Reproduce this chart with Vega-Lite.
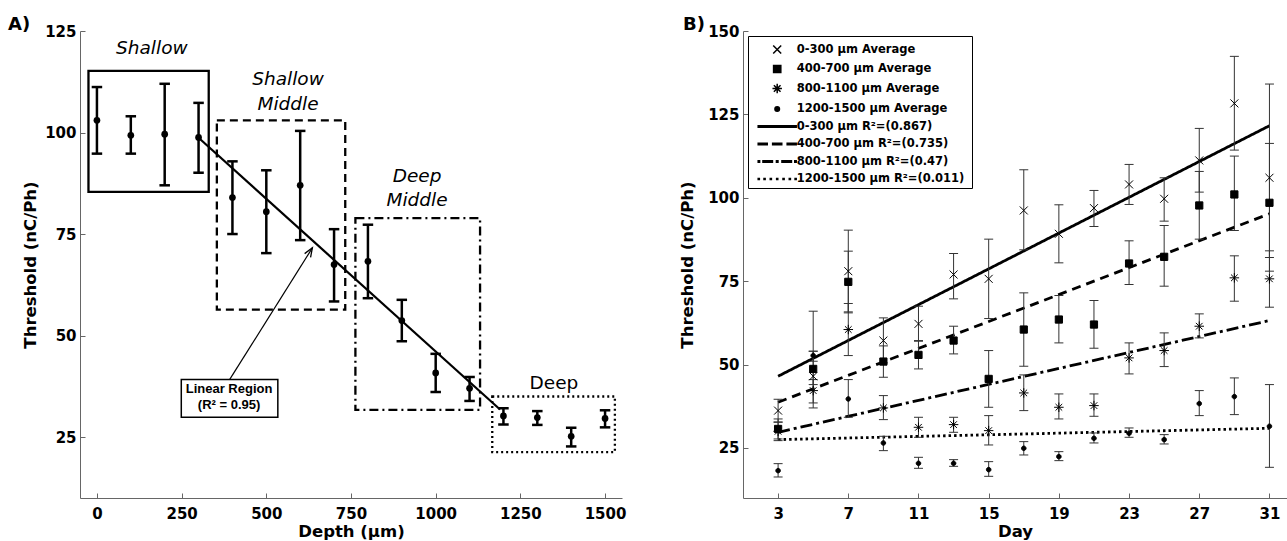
{
  "$schema": "https://vega.github.io/schema/vega-lite/v6.json",
  "padding": {"left": 8, "top": 16, "right": 0, "bottom": 0},
  "spacing": 53,
  "resolve": {"scale": {"shape": "independent", "fill": "independent", "strokeDash": "independent", "x": "independent", "y": "independent"}, "legend": {"shape": "independent", "fill": "independent", "strokeDash": "independent"}},
  "config": {
    "view": {"stroke": null},
    "axis": {"domainColor": "#666", "tickColor": "#666", "tickSize": -5, "labelFont": "DejaVu Sans", "labelFontWeight": "bold", "labelFontSize": 15, "labelColor": "black", "titleFont": "DejaVu Sans", "titleFontWeight": "bold", "titleFontSize": 16.5, "titleColor": "black", "grid": false, "labelFlush": false, "labelOverlap": false, "format": "d"},
    "axisX": {"labelPadding": 13, "titlePadding": 2},
    "axisY": {"labelPadding": 9},
    "title": {"font": "DejaVu Sans", "fontWeight": "bold", "fontSize": 18, "color": "black", "anchor": "start", "frame": "group", "baseline": "alphabetic", "offset": -10}
  },
  "datasets": {
    "depth": [
      {"d": 0, "m": 103.0, "lo": 94.8, "hi": 111.2},
      {"d": 100, "m": 99.3, "lo": 94.8, "hi": 104.0},
      {"d": 200, "m": 99.6, "lo": 87.0, "hi": 112.0},
      {"d": 300, "m": 98.8, "lo": 90.1, "hi": 107.3},
      {"d": 400, "m": 84.0, "lo": 75.0, "hi": 92.9},
      {"d": 500, "m": 80.5, "lo": 70.3, "hi": 90.7},
      {"d": 600, "m": 87.0, "lo": 73.5, "hi": 100.4},
      {"d": 700, "m": 67.5, "lo": 58.4, "hi": 76.2},
      {"d": 800, "m": 68.3, "lo": 59.2, "hi": 77.3},
      {"d": 900, "m": 53.7, "lo": 48.6, "hi": 58.8},
      {"d": 1000, "m": 40.8, "lo": 36.1, "hi": 45.5},
      {"d": 1100, "m": 37.0, "lo": 33.9, "hi": 39.8},
      {"d": 1200, "m": 30.2, "lo": 28.1, "hi": 32.1},
      {"d": 1300, "m": 29.8, "lo": 28.0, "hi": 31.4},
      {"d": 1400, "m": 25.2, "lo": 22.7, "hi": 27.3},
      {"d": 1500, "m": 29.6, "lo": 27.4, "hi": 31.6}
    ],
    "linfit": [{"d": 300, "v": 98.7}, {"d": 1190, "v": 31.8}],
    "boxes": [
      {"region": "Shallow", "x1": -25, "x2": 330, "y1": 85.4, "y2": 115.2},
      {"region": "Shallow Middle", "x1": 354, "x2": 733, "y1": 56.4, "y2": 103.0},
      {"region": "Deep Middle", "x1": 763, "x2": 1131, "y1": 31.7, "y2": 78.9},
      {"region": "Deep", "x1": 1167, "x2": 1529, "y1": 21.3, "y2": 35.0}
    ],
    "italicLabels": [
      {"t": "Shallow", "d": 162, "v": 120.7},
      {"t": "Shallow", "d": 564, "v": 113.1},
      {"t": "Middle", "d": 564, "v": 107.1},
      {"t": "Deep", "d": 945, "v": 89.3},
      {"t": "Middle", "d": 945, "v": 83.5}
    ],
    "deepLabel": [{"t": "Deep", "d": 1349, "v": 38.3}],
    "arrow": [{"d1": 392, "v1": 39.2, "d2": 636, "v2": 71.6}],
    "annotBox": [{"x1": 249, "x2": 534, "y1": 29.9, "y2": 39.2}],
    "annotText": [
      {"t": "Linear Region", "d": 390, "v": 36.9},
      {"t": "(R² = 0.95)", "d": 390, "v": 32.8}
    ],
    "pts": [
      {"day": 3, "series": "0-300  µm Average", "m": 36.2, "lo": 32.8, "hi": 39.6},
      {"day": 5, "series": "0-300  µm Average", "m": 46.5, "lo": 37, "hi": 66},
      {"day": 7, "series": "0-300  µm Average", "m": 78, "lo": 65.8, "hi": 90.3},
      {"day": 9, "series": "0-300  µm Average", "m": 57.2, "lo": 50.5, "hi": 64},
      {"day": 11, "series": "0-300  µm Average", "m": 62.2, "lo": 57, "hi": 67.5},
      {"day": 13, "series": "0-300  µm Average", "m": 77, "lo": 69.7, "hi": 83.3},
      {"day": 15, "series": "0-300  µm Average", "m": 75.7, "lo": 63.8, "hi": 87.6},
      {"day": 17, "series": "0-300  µm Average", "m": 96.2, "lo": 84.4, "hi": 108.4},
      {"day": 19, "series": "0-300  µm Average", "m": 89.2, "lo": 80.5, "hi": 97.9},
      {"day": 21, "series": "0-300  µm Average", "m": 96.9, "lo": 91.4, "hi": 102.2},
      {"day": 23, "series": "0-300  µm Average", "m": 104, "lo": 98, "hi": 110},
      {"day": 25, "series": "0-300  µm Average", "m": 99.7, "lo": 93, "hi": 106},
      {"day": 27, "series": "0-300  µm Average", "m": 111.2, "lo": 101.7, "hi": 120.8},
      {"day": 29, "series": "0-300  µm Average", "m": 128.3, "lo": 114.3, "hi": 142.4},
      {"day": 31, "series": "0-300  µm Average", "m": 106, "lo": 78, "hi": 134.1},
      {"day": 3, "series": "400-700  µm Average", "m": 30.7, "lo": 27.7, "hi": 33.7},
      {"day": 5, "series": "400-700  µm Average", "m": 48.7, "lo": 44, "hi": 54},
      {"day": 7, "series": "400-700  µm Average", "m": 74.8, "lo": 65.5, "hi": 84},
      {"day": 9, "series": "400-700  µm Average", "m": 50.9, "lo": 46.2, "hi": 55.6},
      {"day": 11, "series": "400-700  µm Average", "m": 52.9, "lo": 48.7, "hi": 57.2},
      {"day": 13, "series": "400-700  µm Average", "m": 57.2, "lo": 53.2, "hi": 61.5},
      {"day": 15, "series": "400-700  µm Average", "m": 45.7, "lo": 37.2, "hi": 54.2},
      {"day": 17, "series": "400-700  µm Average", "m": 60.5, "lo": 49.5, "hi": 71.5},
      {"day": 19, "series": "400-700  µm Average", "m": 63.5, "lo": 56.5, "hi": 70.7},
      {"day": 21, "series": "400-700  µm Average", "m": 62, "lo": 54.9, "hi": 69.2},
      {"day": 23, "series": "400-700  µm Average", "m": 80.3, "lo": 74, "hi": 87.1},
      {"day": 25, "series": "400-700  µm Average", "m": 82.3, "lo": 73.5, "hi": 91.7},
      {"day": 27, "series": "400-700  µm Average", "m": 97.7, "lo": 87.6, "hi": 107.9},
      {"day": 29, "series": "400-700  µm Average", "m": 101, "lo": 90.2, "hi": 112.5},
      {"day": 31, "series": "400-700  µm Average", "m": 98.5, "lo": 82.1, "hi": 116.3},
      {"day": 3, "series": "800-1100  µm Average", "m": 30.0, "lo": 27.2, "hi": 32.7},
      {"day": 5, "series": "800-1100  µm Average", "m": 42.2, "lo": 38.5, "hi": 45.5},
      {"day": 7, "series": "800-1100  µm Average", "m": 60.5, "lo": 52.7, "hi": 68.3},
      {"day": 9, "series": "800-1100  µm Average", "m": 37, "lo": 33.5, "hi": 40.7},
      {"day": 11, "series": "800-1100  µm Average", "m": 31.2, "lo": 28.2, "hi": 34.2},
      {"day": 13, "series": "800-1100  µm Average", "m": 32, "lo": 29.7, "hi": 34.2},
      {"day": 15, "series": "800-1100  µm Average", "m": 30.2, "lo": 25.9, "hi": 34.7},
      {"day": 17, "series": "800-1100  µm Average", "m": 41.5, "lo": 36.2, "hi": 46.9},
      {"day": 19, "series": "800-1100  µm Average", "m": 37.2, "lo": 33.7, "hi": 41.2},
      {"day": 21, "series": "800-1100  µm Average", "m": 37.7, "lo": 34.5, "hi": 41.2},
      {"day": 23, "series": "800-1100  µm Average", "m": 52, "lo": 47.2, "hi": 56.5},
      {"day": 25, "series": "800-1100  µm Average", "m": 54.2, "lo": 49.4, "hi": 59.5},
      {"day": 27, "series": "800-1100  µm Average", "m": 61.5, "lo": 58, "hi": 65.2},
      {"day": 29, "series": "800-1100  µm Average", "m": 76, "lo": 69, "hi": 82.6},
      {"day": 31, "series": "800-1100  µm Average", "m": 75.7, "lo": 67.2, "hi": 84.1},
      {"day": 3, "series": "1200-1500  µm Average", "m": 18.2, "lo": 16.3, "hi": 20.3},
      {"day": 5, "series": "1200-1500  µm Average", "m": 52.7, "lo": 51, "hi": 54},
      {"day": 7, "series": "1200-1500  µm Average", "m": 39.7, "lo": 34.2, "hi": 45.5},
      {"day": 9, "series": "1200-1500  µm Average", "m": 26.5, "lo": 24.2, "hi": 28.5},
      {"day": 11, "series": "1200-1500  µm Average", "m": 20.4, "lo": 18.9, "hi": 22.2},
      {"day": 13, "series": "1200-1500  µm Average", "m": 20.4, "lo": 19.5, "hi": 21.5},
      {"day": 15, "series": "1200-1500  µm Average", "m": 18.5, "lo": 16.5, "hi": 20.9},
      {"day": 17, "series": "1200-1500  µm Average", "m": 24.9, "lo": 22.9, "hi": 26.9},
      {"day": 19, "series": "1200-1500  µm Average", "m": 22.4, "lo": 21.2, "hi": 23.9},
      {"day": 21, "series": "1200-1500  µm Average", "m": 27.9, "lo": 26.5, "hi": 29.5},
      {"day": 23, "series": "1200-1500  µm Average", "m": 29.4, "lo": 28.2, "hi": 31},
      {"day": 25, "series": "1200-1500  µm Average", "m": 27.5, "lo": 26.2, "hi": 29},
      {"day": 27, "series": "1200-1500  µm Average", "m": 38.3, "lo": 34.7, "hi": 42.2},
      {"day": 29, "series": "1200-1500  µm Average", "m": 40.4, "lo": 35, "hi": 46},
      {"day": 31, "series": "1200-1500  µm Average", "m": 31.5, "lo": 19.2, "hi": 44}
    ],
    "fits": [
      {"fit": "0-300  µm R²=(0.867)", "day": 3, "v": 46.5},
      {"fit": "0-300  µm R²=(0.867)", "day": 31, "v": 121.6},
      {"fit": "400-700  µm R²=(0.735)", "day": 3, "v": 38.7},
      {"fit": "400-700  µm R²=(0.735)", "day": 31, "v": 95.2},
      {"fit": "800-1100  µm R²=(0.47)", "day": 3, "v": 29.7},
      {"fit": "800-1100  µm R²=(0.47)", "day": 31, "v": 63.2},
      {"fit": "1200-1500  µm R²=(0.011)", "day": 3, "v": 27.5},
      {"fit": "1200-1500  µm R²=(0.011)", "day": 31, "v": 30.9}
    ]
  },
  "hconcat": [
    {
      "title": {"text": "A)", "dx": -72},
      "width": 542,
      "height": 467,
      "layer": [
        {
          "data": {"name": "boxes"},
          "transform": [{"filter": "datum.region === 'Shallow'"}],
          "mark": {"type": "rect", "fill": "transparent", "stroke": "black", "strokeWidth": 2.3},
          "encoding": {
            "x": {"field": "x1", "type": "quantitative", "scale": {"domain": [-50, 1550], "nice": false, "zero": false}, "axis": {"title": "Depth (µm)", "values": [0, 250, 500, 750, 1000, 1250, 1500]}},
            "x2": {"field": "x2"},
            "y": {"field": "y1", "type": "quantitative", "scale": {"domain": [10, 125], "nice": false, "zero": false}, "axis": {"title": "Threshold (nC/Ph)", "values": [25, 50, 75, 100, 125], "titlePadding": 6}},
            "y2": {"field": "y2"}
          }
        },
        {
          "data": {"name": "boxes"},
          "transform": [{"filter": "datum.region === 'Shallow Middle'"}],
          "mark": {"type": "rect", "fill": "transparent", "stroke": "black", "strokeWidth": 2.3, "strokeDash": [8, 5]},
          "encoding": {
            "x": {"field": "x1", "type": "quantitative"},
            "x2": {"field": "x2"},
            "y": {"field": "y1", "type": "quantitative"},
            "y2": {"field": "y2"}
          }
        },
        {
          "data": {"name": "boxes"},
          "transform": [{"filter": "datum.region === 'Deep Middle'"}],
          "mark": {"type": "rect", "fill": "transparent", "stroke": "black", "strokeWidth": 2.3, "strokeDash": [9, 4, 2, 4]},
          "encoding": {
            "x": {"field": "x1", "type": "quantitative"},
            "x2": {"field": "x2"},
            "y": {"field": "y1", "type": "quantitative"},
            "y2": {"field": "y2"}
          }
        },
        {
          "data": {"name": "boxes"},
          "transform": [{"filter": "datum.region === 'Deep'"}],
          "mark": {"type": "rect", "fill": "transparent", "stroke": "black", "strokeWidth": 2.3, "strokeDash": [2, 3]},
          "encoding": {
            "x": {"field": "x1", "type": "quantitative"},
            "x2": {"field": "x2"},
            "y": {"field": "y1", "type": "quantitative"},
            "y2": {"field": "y2"}
          }
        },
        {
          "data": {"name": "linfit"},
          "mark": {"type": "line", "color": "black", "strokeWidth": 2.2},
          "encoding": {
            "x": {"field": "d", "type": "quantitative"},
            "y": {"field": "v", "type": "quantitative"}
          }
        },
        {
          "data": {"name": "depth"},
          "mark": {"type": "rule", "color": "black", "strokeWidth": 2.5},
          "encoding": {
            "x": {"field": "d", "type": "quantitative"},
            "y": {"field": "lo", "type": "quantitative"},
            "y2": {"field": "hi"}
          }
        },
        {
          "data": {"name": "depth"},
          "mark": {"type": "tick", "orient": "horizontal", "color": "black", "size": 10.5, "thickness": 2.5, "opacity": 1},
          "encoding": {
            "x": {"field": "d", "type": "quantitative"},
            "y": {"field": "lo", "type": "quantitative"}
          }
        },
        {
          "data": {"name": "depth"},
          "mark": {"type": "tick", "orient": "horizontal", "color": "black", "size": 10.5, "thickness": 2.5, "opacity": 1},
          "encoding": {
            "x": {"field": "d", "type": "quantitative"},
            "y": {"field": "hi", "type": "quantitative"}
          }
        },
        {
          "data": {"name": "depth"},
          "mark": {"type": "circle", "color": "black", "size": 45, "opacity": 1},
          "encoding": {
            "x": {"field": "d", "type": "quantitative"},
            "y": {"field": "m", "type": "quantitative"}
          }
        },
        {
          "data": {"name": "italicLabels"},
          "mark": {"type": "text", "font": "DejaVu Sans", "fontStyle": "italic", "fontSize": 18.5, "color": "black", "align": "center", "baseline": "middle"},
          "encoding": {
            "x": {"field": "d", "type": "quantitative"},
            "y": {"field": "v", "type": "quantitative"},
            "text": {"field": "t"}
          }
        },
        {
          "data": {"name": "deepLabel"},
          "mark": {"type": "text", "font": "DejaVu Sans", "fontSize": 18.5, "color": "black", "align": "center", "baseline": "middle"},
          "encoding": {
            "x": {"field": "d", "type": "quantitative"},
            "y": {"field": "v", "type": "quantitative"},
            "text": {"field": "t"}
          }
        },
        {
          "data": {"name": "arrow"},
          "mark": {"type": "rule", "color": "black", "strokeWidth": 1.2},
          "encoding": {
            "x": {"field": "d1", "type": "quantitative"},
            "y": {"field": "v1", "type": "quantitative"},
            "x2": {"field": "d2"},
            "y2": {"field": "v2"}
          }
        },
        {
          "data": {"name": "arrow"},
          "mark": {"type": "point", "shape": "M-0.35,0.9L0,0L0.35,0.9", "size": 400, "angle": 32, "filled": false, "stroke": "black", "strokeWidth": 1.3, "opacity": 1},
          "encoding": {
            "x": {"field": "d2", "type": "quantitative"},
            "y": {"field": "v2", "type": "quantitative"}
          }
        },
        {
          "data": {"name": "annotBox"},
          "mark": {"type": "rect", "fill": "white", "stroke": "black", "strokeWidth": 1.5},
          "encoding": {
            "x": {"field": "x1", "type": "quantitative"},
            "x2": {"field": "x2"},
            "y": {"field": "y1", "type": "quantitative"},
            "y2": {"field": "y2"}
          }
        },
        {
          "data": {"name": "annotText"},
          "mark": {"type": "text", "font": "Liberation Sans", "fontWeight": "bold", "fontSize": 13, "color": "black", "align": "center", "baseline": "middle"},
          "encoding": {
            "x": {"field": "d", "type": "quantitative"},
            "y": {"field": "v", "type": "quantitative"},
            "text": {"field": "t"}
          }
        }
      ]
    },
    {
      "title": {"text": "B)", "dx": -60},
      "width": 544,
      "height": 467,
      "layer": [
        {
          "data": {"name": "fits"},
          "mark": {"type": "line", "color": "black", "strokeWidth": 2.8},
          "encoding": {
            "x": {"field": "day", "type": "quantitative", "scale": {"domain": [1, 32], "nice": false, "zero": false}, "axis": {"title": "Day", "values": [3, 7, 11, 15, 19, 23, 27, 31]}},
            "y": {"field": "v", "type": "quantitative", "scale": {"domain": [10, 150], "nice": false, "zero": false}, "axis": {"title": "Threshold (nC/Ph)", "values": [25, 50, 75, 100, 125, 150], "titlePadding": 12}},
            "strokeDash": {"field": "fit", "type": "nominal", "scale": {"domain": ["0-300  µm R²=(0.867)", "400-700  µm R²=(0.735)", "800-1100  µm R²=(0.47)", "1200-1500  µm R²=(0.011)"], "range": [[1, 0], [9, 6], [12, 4, 3, 4], [2.5, 3]]}, "legend": null}
          }
        },
        {
          "data": {"name": "pts"},
          "mark": {"type": "rule", "color": "#333", "strokeWidth": 1},
          "encoding": {
            "x": {"field": "day", "type": "quantitative"},
            "y": {"field": "lo", "type": "quantitative"},
            "y2": {"field": "hi"}
          }
        },
        {
          "data": {"name": "pts"},
          "mark": {"type": "tick", "orient": "horizontal", "color": "#333", "size": 9, "thickness": 1, "opacity": 1},
          "encoding": {
            "x": {"field": "day", "type": "quantitative"},
            "y": {"field": "lo", "type": "quantitative"}
          }
        },
        {
          "data": {"name": "pts"},
          "mark": {"type": "tick", "orient": "horizontal", "color": "#333", "size": 9, "thickness": 1, "opacity": 1},
          "encoding": {
            "x": {"field": "day", "type": "quantitative"},
            "y": {"field": "hi", "type": "quantitative"}
          }
        },
        {
          "data": {"name": "pts"},
          "mark": {"type": "point", "filled": true, "size": 361, "stroke": "black", "strokeWidth": 1, "opacity": 1},
          "encoding": {
            "x": {"field": "day", "type": "quantitative"},
            "y": {"field": "m", "type": "quantitative"},
            "shape": {
              "field": "series", "type": "nominal",
              "scale": {
                "domain": ["0-300  µm Average", "400-700  µm Average", "800-1100  µm Average", "1200-1500  µm Average", "0-300  µm R²=(0.867)", "400-700  µm R²=(0.735)", "800-1100  µm R²=(0.47)", "1200-1500  µm R²=(0.011)"],
                "range": [
                  "M-0.42,-0.42L0.42,0.42M-0.42,0.42L0.42,-0.42",
                  "M-0.38,-0.38H0.38V0.38H-0.38Z",
                  "M0,-0.5V0.5M-0.5,0H0.5M-0.35,-0.35L0.35,0.35M-0.35,0.35L0.35,-0.35",
                  "M0.24,0A0.24,0.24 0 1,1 -0.24,0A0.24,0.24 0 1,1 0.24,0Z",
                  "M-2,-0.07H2V0.07H-2Z",
                  "M-2,-0.07H-1.05V0.07H-2ZM-0.48,-0.07H0.48V0.07H-0.48ZM1.05,-0.07H2V0.07H1.05Z",
                  "M-2,-0.07H-1.85V0.07H-2ZM-1.5,-0.07H-0.5V0.07H-1.5ZM-0.08,-0.07H0.08V0.07H-0.08ZM0.5,-0.07H1.5V0.07H0.5ZM1.85,-0.07H2V0.07H1.85Z",
                  "M-2,-0.06H-1.88V0.06H-2ZM-1.39,-0.06H-1.27V0.06H-1.39ZM-0.73,-0.06H-0.61V0.06H-0.73ZM-0.06,-0.06H0.06V0.06H-0.06ZM0.61,-0.06H0.73V0.06H0.61ZM1.27,-0.06H1.39V0.06H1.27ZM1.88,-0.06H2V0.06H1.88Z"
                ]
              },
              "legend": {"title": null, "orient": "none", "legendX": 5, "legendY": 5, "strokeColor": "black", "fillColor": "white", "padding": 3, "symbolSize": 361, "symbolOffset": 15.7, "labelOffset": 9, "rowPadding": 1.5, "labelFont": "DejaVu Sans", "labelFontWeight": "bold", "labelFontSize": 11.5, "labelColor": "black", "labelLimit": 400, "symbolOpacity": 1, "encode": {"symbols": {"update": {"stroke": {"value": "black"}, "strokeWidth": {"value": 1}}}}}
            },
            "fill": {
              "field": "series", "type": "nominal",
              "scale": {
                "domain": ["0-300  µm Average", "400-700  µm Average", "800-1100  µm Average", "1200-1500  µm Average", "0-300  µm R²=(0.867)", "400-700  µm R²=(0.735)", "800-1100  µm R²=(0.47)", "1200-1500  µm R²=(0.011)"],
                "range": ["transparent", "black", "transparent", "black", "black", "black", "black", "black"]
              },
              "legend": {"title": null, "orient": "none", "legendX": 5, "legendY": 5, "strokeColor": "black", "fillColor": "white", "padding": 3, "symbolSize": 361, "symbolOffset": 15.7, "labelOffset": 9, "rowPadding": 1.5, "labelFont": "DejaVu Sans", "labelFontWeight": "bold", "labelFontSize": 11.5, "labelColor": "black", "labelLimit": 400, "symbolOpacity": 1, "encode": {"symbols": {"update": {"stroke": {"value": "black"}, "strokeWidth": {"value": 1}}}}}
            }
          }
        }
      ]
    }
  ]
}
